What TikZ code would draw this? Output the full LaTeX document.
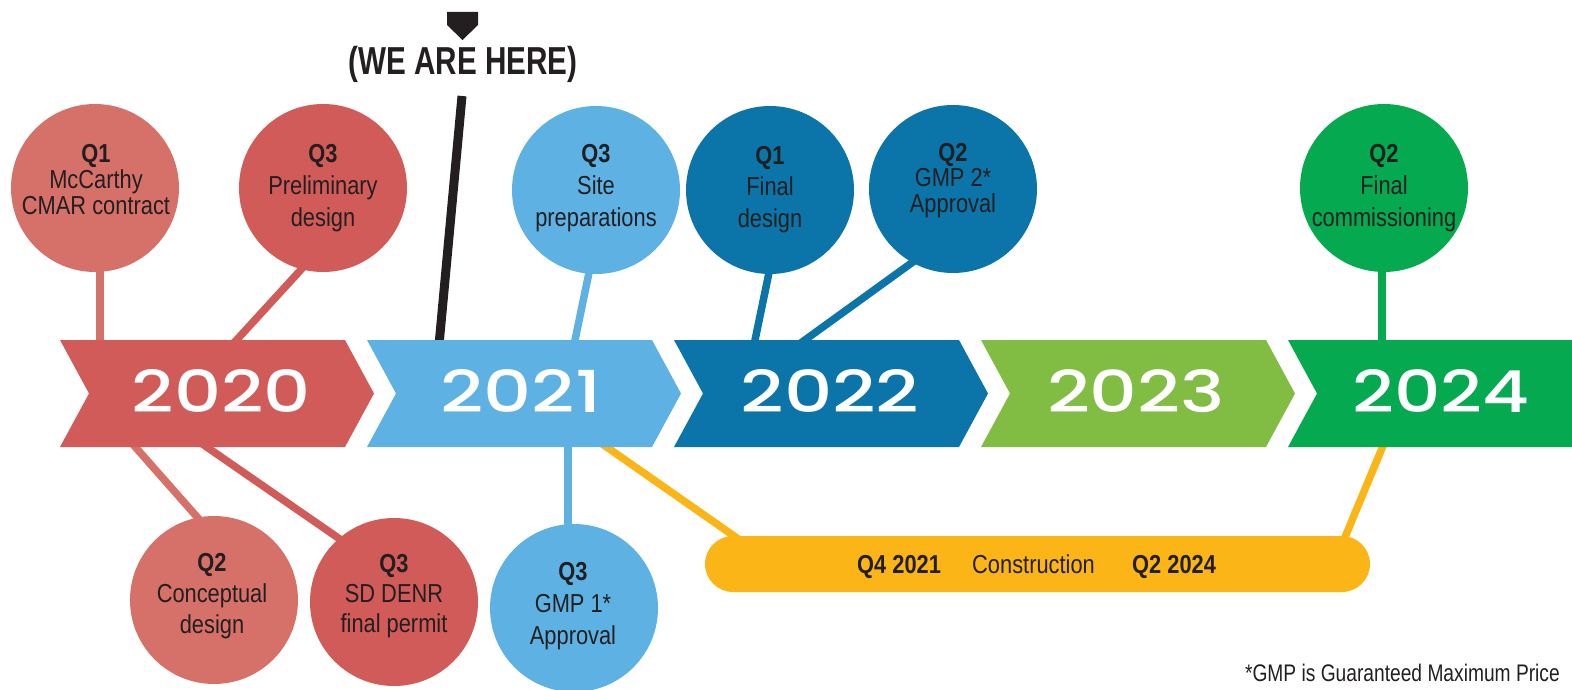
\documentclass[tikz,border=0pt]{standalone}
\usepackage{fontspec}
\usepackage{graphicx}
\usetikzlibrary{shapes.misc}
\newfontfamily\cond[FakeStretch=0.84]{Liberation Sans}
\newfontfamily\condf[FakeStretch=0.80]{Liberation Sans}
\newfontfamily\condh[FakeStretch=0.76]{Liberation Sans}
\newfontfamily\yearfont{Poppins Medium}
\definecolor{cred}{HTML}{D05B58}
\definecolor{csalmon}{HTML}{D6716A}
\definecolor{clblue}{HTML}{5EB2E3}
\definecolor{cdblue}{HTML}{0B75A9}
\definecolor{clgreen}{HTML}{80BD42}
\definecolor{cgreen}{HTML}{05A94F}
\definecolor{cyellow}{HTML}{FBB517}
\definecolor{ink}{HTML}{231F20}
\tikzset{
  circ/.style={circle, inner sep=0pt, minimum size=168pt},
  ctext/.style={anchor=north, inner sep=0pt, align=center, text=ink},
  stem/.style={line width=7.5pt},
  year/.style={anchor=south, inner sep=0pt, text=white},
  ptext/.style={anchor=base west, inner sep=0pt, text=ink, font=\cond\fontsize{26}{26}\selectfont},
}
\newcommand\cf[1]{\cond\fontsize{26}{#1}\selectfont}
\begin{document}
\begin{tikzpicture}[x=1pt,y=-1pt]
\useasboundingbox (0,0) rectangle (1572,690);
% stem coordinates
\coordinate (a1) at (100,345); \coordinate (a2) at (100,262);
\coordinate (b1) at (232,345); \coordinate (b2) at (308,262);
\coordinate (w1) at (439,345); \coordinate (w2) at (462,96);
\coordinate (c1) at (574,345); \coordinate (c2) at (591,263);
\coordinate (d1) at (754,345); \coordinate (d2) at (771,263);
\coordinate (e1) at (798,345); \coordinate (e2) at (917,259);
\coordinate (f1) at (1382,345); \coordinate (f2) at (1382,262);
\coordinate (g1) at (130,441); \coordinate (g2) at (205,526);
\coordinate (h1) at (198,441); \coordinate (h2) at (347,544);
\coordinate (i1) at (568,441); \coordinate (i2) at (568,534);
\coordinate (y1) at (598,441); \coordinate (y2) at (744,543);
\coordinate (z1) at (1385,441); \coordinate (z2) at (1343,542);
% stems
\draw[stem, csalmon] (a1) -- (a2);
\draw[stem, cred] (b1) -- (b2);
\draw[line width=9pt, ink] (w1) -- (w2);
\draw[stem, clblue] (c1) -- (c2);
\draw[stem, cdblue] (d1) -- (d2);
\draw[stem, cdblue] (e1) -- (e2);
\draw[stem, cgreen] (f1) -- (f2);
\draw[stem, csalmon] (g1) -- (g2);
\draw[stem, cred] (h1) -- (h2);
\draw[stem, clblue] (i1) -- (i2);
\draw[stem, cyellow] (y1) -- (y2);
\draw[stem, cyellow] (z1) -- (z2);
% chevrons
\foreach \k/\col in {0/cred,1/clblue,2/cdblue,3/clgreen}{
  \pgfmathsetmacro\xo{60+307*\k}
  \fill[\col] (\xo,340) -- ++(285,0) -- ++(29,53.5) -- ++(-29,53.5) -- ++(-285,0) -- ++(29,-53.5) -- cycle;
}
\fill[cgreen] (1288,340) -- (1572,340) -- (1572,447) -- (1288,447) -- (1317,393.5) -- cycle;
% years
\node[year] (y20) at (221.5,413) {\resizebox{179pt}{43pt}{\yearfont\fontsize{60}{60}\selectfont 2020}};
\node[year] (y21) at (521,413) {\resizebox{161pt}{43pt}{\yearfont\fontsize{60}{60}\selectfont 2021}};
\node[year] (y22) at (830,413) {\resizebox{179pt}{43pt}{\yearfont\fontsize{60}{60}\selectfont 2022}};
\node[year] (y23) at (1136,413) {\resizebox{178pt}{43pt}{\yearfont\fontsize{60}{60}\selectfont 2023}};
\node[year] (y24) at (1441,413) {\resizebox{177pt}{43pt}{\yearfont\fontsize{60}{60}\selectfont 2024}};
% circles
\node[circ, fill=csalmon] (A) at (95,188) {};
\node[circ, fill=cred] (B) at (323,188) {};
\node[circ, fill=clblue] (C) at (596,190) {};
\node[circ, fill=cdblue] (D) at (770,190) {};
\node[circ, fill=cdblue] (E) at (953,189) {};
\node[circ, fill=cgreen] (F) at (1384,188) {};
\node[circ, fill=csalmon] (G) at (214,600) {};
\node[circ, fill=cred] (H) at (394,602) {};
\node[circ, fill=clblue] (I) at (574,608) {};
% circle texts
\node[ctext, font=\cf{26}] (tA) at (96,144) {\textbf{Q1}\\McCarthy\\CMAR contract};
\node[ctext, font=\cf{32}] (tB) at (323,144) {\textbf{Q3}\\Preliminary\\design};
\node[ctext, font=\cf{32}] (tC) at (596,144) {\textbf{Q3}\\Site\\preparations};
\node[ctext, font=\cf{31.5}] (tD) at (770,146) {\textbf{Q1}\\Final\\design};
\node[ctext, font=\cf{25.5}] (tE) at (953,143) {\textbf{Q2}\\GMP 2*\\Approval};
\node[ctext, font=\cf{32}] (tF) at (1384,144) {\textbf{Q2}\\Final\\commissioning};
\node[ctext, font=\cf{31}] (tG) at (212,553) {\textbf{Q2}\\Conceptual\\design};
\node[ctext, font=\cf{30}] (tH) at (394,554) {\textbf{Q3}\\SD DENR\\final permit};
\node[ctext, font=\cf{32}] (tI) at (573,562) {\textbf{Q3}\\GMP 1*\\Approval};
% pill
\node[rounded rectangle, fill=cyellow, minimum width=665pt, minimum height=56pt, inner sep=0pt] (pill) at (1037.5,564) {};
\node[ptext] (p1) at (857,573) {\textbf{Q4 2021}};
\node[ptext] (p2) at (972,573) {Construction};
\node[ptext] (p3) at (1132,573) {\textbf{Q2 2024}};
% we are here
\node[inner sep=0pt, anchor=base, text=ink, font=\condh\bfseries\fontsize{39}{39}\selectfont] (here) at (463,75) {(WE ARE HERE)};
\fill[ink] (447,12) -- (478,12) -- (478,25) -- (462.5,40) -- (447,25) -- cycle;
% footnote
\node[inner sep=0pt, anchor=base east, text=ink, font=\condf\fontsize{24}{24}\selectfont] (note) at (1560,681.5) {*GMP is Guaranteed Maximum Price};
\end{tikzpicture}
\end{document}
